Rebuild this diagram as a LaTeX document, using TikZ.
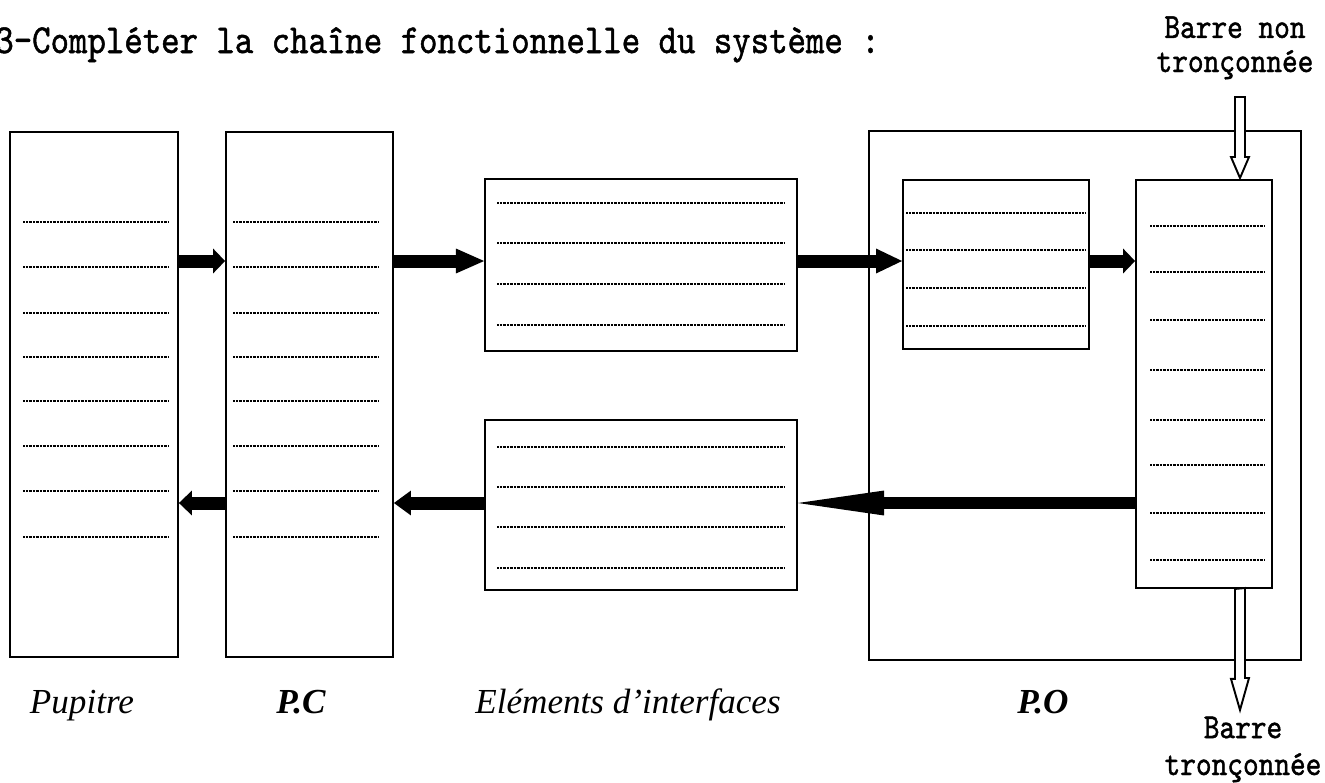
\documentclass[tikz,border=0pt]{standalone}
\usepackage{fontspec}
\setmainfont{Liberation Serif}
\newfontfamily\monofont{lmmono10-regular.otf}[FakeStretch=0.85,FakeBold=1.2]
\usetikzlibrary{arrows.meta}

\begin{document}
\begin{tikzpicture}[x=0.02cm,y=-0.02cm,
  bloc/.style={draw,line width=1.1pt,inner sep=0pt},
  pointille/.style={line width=0.6pt,dash pattern=on 0.5pt off 0.3pt},
  fleche/.style={line width=7.4pt,-{Triangle[length=#1,width=14.2pt,line width=0pt]}},
  creuse/.style={draw,line width=1.1pt,fill=white},
  legende/.style={inner sep=0pt,anchor=base,font=\fontsize{20}{24}\selectfont\itshape},
  legendegras/.style={legende,font=\fontsize{20}{24}\selectfont\bfseries\itshape},
  barre/.style={inner sep=0pt,anchor=base,align=center}]

\useasboundingbox (0,0) rectangle (1325,782);

\node[anchor=base west,inner sep=0pt,font=\monofont\fontsize{23.5}{28}\selectfont] (titre) at (-5,53) {3-Compléter la chaîne fonctionnelle du système :};

\node[bloc,minimum width=8.64cm,minimum height=10.58cm] (po) at (1085,395.5) {};
\node[bloc,minimum width=3.36cm,minimum height=10.5cm] (pup) at (94,394.5) {};
\node[bloc,minimum width=3.34cm,minimum height=10.5cm] (pc) at (309.5,394.5) {};
\node[bloc,minimum width=6.24cm,minimum height=3.44cm] (eltop) at (641,265) {};
\node[bloc,minimum width=6.24cm,minimum height=3.40cm] (elbot) at (641,505) {};
\node[bloc,minimum width=3.72cm,minimum height=3.38cm] (act) at (996,264.5) {};
\node[bloc,minimum width=2.72cm,minimum height=8.16cm] (bar) at (1204,384) {};

\foreach \y in {222,267,313,357,401,446,491,537} {
  \draw[pointille] (23,\y) -- (168,\y);
  \draw[pointille] (233,\y) -- (378,\y);
}
\foreach \y in {203,243,284,325} \draw[pointille] (497,\y) -- (785,\y);
\foreach \y in {447,487,527,568} \draw[pointille] (497,\y) -- (785,\y);
\foreach \y in {213,250,288,326} \draw[pointille] (906,\y) -- (1085,\y);
\foreach \y in {226,272,320,370,420,465,513,560} \draw[pointille] (1150,\y) -- (1265,\y);

\coordinate (haut) at (0,261);
\coordinate (bas) at (0,503);

\draw[fleche=6.8pt] (pup.east |- haut) -- (pc.west |- haut);
\draw[fleche=16pt] (pc.east |- haut) -- (eltop.west |- haut);
\draw[fleche=14.8pt] (eltop.east |- haut) -- (act.west |- haut);
\draw[fleche=6.8pt] (act.east |- haut) -- (bar.west |- haut);
\draw[fleche=49pt,line width=6.8pt] (bar.west |- bas) -- (elbot.east |- bas);
\draw[fleche=9.7pt] (elbot.west |- bas) -- (pc.east |- bas);
\draw[fleche=7.4pt] (pc.west |- bas) -- (pup.east |- bas);

\coordinate (entree) at (1240,97);
\coordinate (sortie) at (1240,710);
\draw[creuse] (entree) ++(-5,0) -- ++(0,60) -- ++(-4,0) -- ++(9,21) -- ++(9,-21) -- ++(-4,0) -- ++(0,-60) -- cycle;
\draw[creuse] (bar.south -| sortie) ++(-5,0) -- ++(0,90) -- ++(-4,0) -- (sortie) -- ++(9,-32) -- ++(-4,0) -- ++(0,-90) -- cycle;

\node[barre,font=\monofont\fontsize{20}{19.4}\selectfont] (lentree) at (1235,72) {Barre non\\tronçonnée};
\node[barre,font=\monofont\fontsize{20}{21}\selectfont] (lsortie) at (1243,775) {Barre\\tronçonnée};

\node[legende] (lpup) at (82,713) {Pupitre};
\node[legendegras] (lpc) at (301,713) {P.C};
\node[legende] (lel) at (628,713) {Eléments d’interfaces};
\node[legendegras] (lpo) at (1043,713) {P.O};

\end{tikzpicture}
\end{document}
